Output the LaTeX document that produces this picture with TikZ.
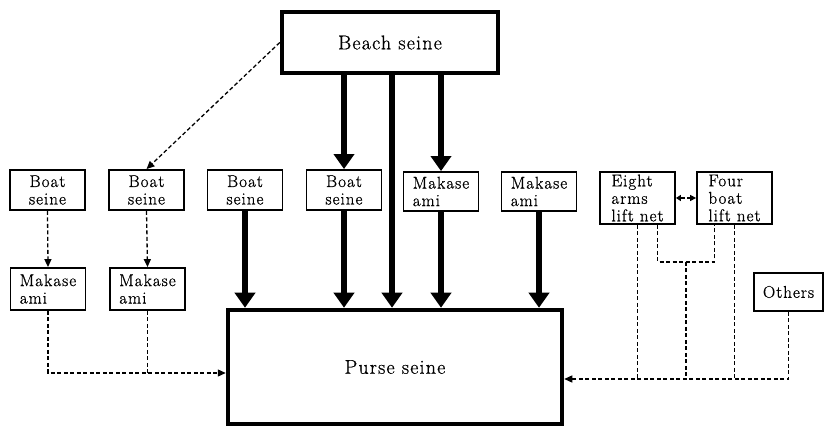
\documentclass[tikz,border=0pt]{standalone}
\usepackage{fontspec}
\setmainfont{Latin Modern Roman}[LetterSpace=6, FakeBold=0.8]
\usetikzlibrary{arrows.meta,calc}

\tikzset{
  gearbox/.style={draw, line width=1.8pt, inner sep=1pt, minimum width=75pt,
    font=\fontsize{17}{17.5}\selectfont},
  mainbox/.style={draw, line width=4.5pt, font=\fontsize{20}{22}\selectfont},
  flow/.style={line width=6pt, -{Triangle[length=15pt,width=20pt]}},
  link/.style={line width=1.3pt, dash pattern=on 4pt off 2.5pt},
  linkarrow/.style={link, -{Triangle[length=8pt,width=7pt]}},
}

\begin{document}
\begin{tikzpicture}[x=1pt, y=-1pt]
  \useasboundingbox (0,0) rectangle (824,427);

  % Main gears
  \node[mainbox, minimum width=216pt, minimum height=61pt] (beach) at (390,42.5) {Beach seine};
  \node[mainbox, minimum width=334pt, minimum height=114pt] (purse) at (395,367) {Purse seine};

  % Upper row
  \foreach \name/\xpos in {b1/47.5, b2/146.5, b3/245, b4/344} {
    \node[gearbox, minimum height=40pt, align=center] (\name) at (\xpos,190) {Boat\\seine};
  }
  \foreach \name/\xpos in {m1/441, m2/539} {
    \node[gearbox, minimum height=39pt, align=left] (\name) at (\xpos,191.5) {Makase\\ami};
  }
  \node[gearbox, minimum height=52pt, align=left] (eight) at (637.5,198) {Eight\\arms\\lift net};
  \node[gearbox, minimum height=52pt, align=left] (four) at (734.5,198) {Four\\boat\\lift net};

  % Lower row
  \foreach \name/\xpos in {ml1/48, ml2/147.5} {
    \node[gearbox, minimum height=42pt, align=left] (\name) at (\xpos,289) {Makase\\ami};
  }
  \node[gearbox, minimum width=69pt, minimum height=38pt] (others) at (788.5,292) {Others};

  % Thick arrows
  \draw[flow] (beach.south -| b4.north) -- (b4.north);
  \draw[flow] (beach.south -| m1.north) -- (m1.north);
  \draw[flow] ([xshift=2pt]beach.south) -- ([xshift=2pt]beach.south |- purse.north);
  \foreach \name in {b3, b4, m1, m2} {
    \draw[flow] (\name.south) -- (\name.south |- purse.north);
  }

  % Dashed links, left side
  \draw[linkarrow] (beach.west) -- (b2.north);
  \draw[linkarrow] (b1.south) -- (ml1.north);
  \draw[linkarrow] (b2.south) -- (ml2.north);
  \coordinate (lin) at ([yshift=-6pt]purse.west);
  \draw[linkarrow] (ml1.south) |- (lin);
  \draw[link] (ml2.south) -- (ml2.south |- lin);

  % Dashed links, right side
  \coordinate (rin) at ([yshift=-12pt]purse.east);
  \draw[linkarrow] (others.south) |- (rin);
  \draw[link] (eight.south) -- (eight.south |- rin);
  \draw[link] (four.south) -- (four.south |- rin);
  \coordinate (ej) at ([xshift=20pt]eight.south);
  \coordinate (fj) at ([xshift=-20pt]four.south);
  \draw[link] (ej) -- ++(0,37) -| (fj);
  \coordinate (bk) at ($(ej)!.5!(fj) + (0,37)$);
  \draw[link] (bk) -- (bk |- rin);
  \draw[link, {Triangle[length=5pt,width=6pt]}-{Triangle[length=6pt,width=6pt]}] (eight.east) -- (four.west);

\end{tikzpicture}
\end{document}
